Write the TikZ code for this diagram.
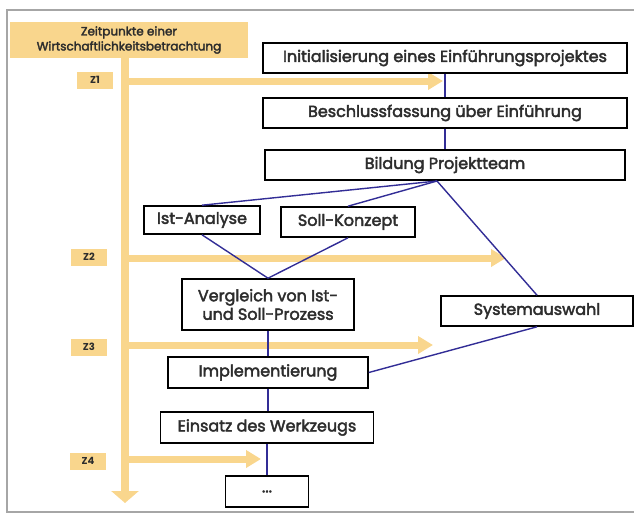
\documentclass[tikz,border=0pt]{standalone}
\usepackage{fontspec}
\setmainfont{Poppins}
\newfontfamily\kastenfont{Poppins}[FakeBold=2.6]
\usetikzlibrary{arrows.meta}
\definecolor{zeitorange}{RGB}{249,214,141}
\definecolor{flussblau}{RGB}{50,45,150}
\definecolor{schrift}{RGB}{45,45,45}
\begin{document}
\begin{tikzpicture}
		[x=1pt,y=-1pt,
		schritt/.style={draw=black,line width=1.6pt,fill=white,inner sep=0pt,
			minimum height=30pt,text=schrift,
			font=\kastenfont\fontsize{16}{18.5}\selectfont,align=center},
		zeitbox/.style={fill=zeitorange,inner sep=0pt,minimum width=36pt,
			minimum height=17pt,text=schrift,font=\bfseries\fontsize{10}{10}\selectfont},
		zeitpfeil/.style={draw=zeitorange,line width=7pt,
			-{Triangle[width=17pt,length=15pt]}},
		fluss/.style={draw=flussblau,line width=1.4pt}]
		\useasboundingbox (0,0) rectangle (634,522);
		\draw[gray!70,line width=1.2pt] (634,10) -- (7,10) -- (7,512) -- (634,512);
		\node[fill=zeitorange,minimum width=238pt,minimum height=36pt,inner sep=0pt,
			align=center,text=schrift,font=\kastenfont\fontsize{12}{15}\selectfont]
			(kopf) at (129,40) {Zeitpunkte einer\\Wirtschaftlichkeitsbetrachtung};
		\node[zeitbox] (z1) at (95,80) {Z1};
		\node[zeitbox] (z2) at (89,257) {Z2};
		\node[zeitbox] (z3) at (89,347) {Z3};
		\node[zeitbox] (z4) at (88,461) {Z4};
		\coordinate (zstart) at (125,58);
		\coordinate (zende) at (125,503);
		\coordinate (z1ende) at (443,81);
		\coordinate (z2ende) at (506,258);
		\coordinate (z3ende) at (433,345);
		\coordinate (z4ende) at (261,459);
		\draw[zeitpfeil,line width=8pt,-{Triangle[width=27pt,length=12pt]}]
			(zstart) -- (zende);
		\draw[zeitpfeil] (zstart |- z1ende) -- (z1ende);
		\draw[zeitpfeil] (zstart |- z2ende) -- (z2ende);
		\draw[zeitpfeil] (zstart |- z3ende) -- (z3ende);
		\draw[zeitpfeil] (zstart |- z4ende) -- (z4ende);
		\node[schritt,minimum width=364pt] (init) at (445,58)
			{Initialisierung eines Einführungsprojektes};
		\node[schritt,minimum width=364pt] (beschluss) at (445,113)
			{Beschlussfassung über Einführung};
		\node[schritt,minimum width=360pt] (bildung) at (445,165)
			{Bildung Projektteam};
		\node[schritt,minimum width=116pt,minimum height=28pt] (ist) at (202,220)
			{Ist-Analyse};
		\node[schritt,minimum width=134pt] (soll) at (348,222) {Soll-Konzept};
		\node[schritt,minimum width=172pt,minimum height=51pt] (vergleich)
			at (268,304.5) {Vergleich von Ist-\\und Soll-Prozess};
		\node[schritt,minimum width=192pt] (auswahl) at (537,311) {Systemauswahl};
		\node[schritt,minimum width=200pt,minimum height=31pt] (impl) at (268,372.5)
			{Implementierung};
		\node[schritt,minimum width=213pt,minimum height=31pt] (einsatz)
			at (267,427.5) {Einsatz des Werkzeugs};
		\node[schritt,minimum width=83pt,minimum height=31pt] (weiter)
			at (267,491.5) {...};
		\coordinate (teilung) at (437,181);
		\draw[fluss] (init) -- (beschluss);
		\draw[fluss] (beschluss) -- (bildung);
		\draw[fluss] (teilung) -- (ist.north);
		\draw[fluss] (teilung) -- (soll.north);
		\draw[fluss] (teilung) -- (auswahl.north);
		\draw[fluss] (ist.south) -- (vergleich.north);
		\draw[fluss] (soll.south) -- (vergleich.north);
		\draw[fluss] (vergleich) -- (impl);
		\draw[fluss] (auswahl.south) -- (impl.east);
		\draw[fluss] (impl.south) -- (impl.south |- einsatz.north);
		\draw[fluss] (einsatz) -- (weiter);
	\end{tikzpicture}
\end{document}
